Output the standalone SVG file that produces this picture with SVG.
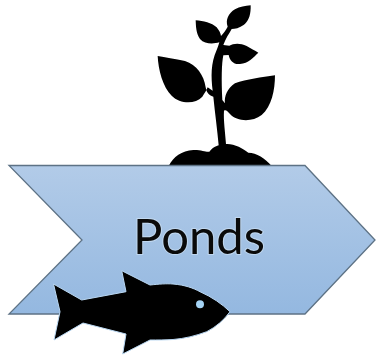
<svg xmlns="http://www.w3.org/2000/svg" width="376" height="358" viewBox="0 0 376 358">
<style>
.k{fill:#000}
.label{font-family:"Lato","Liberation Sans",sans-serif;font-size:49px;fill:#0a0a0a;stroke:#d3e6f6;stroke-width:2px;paint-order:stroke;stroke-opacity:.6}
</style>
<defs>
<linearGradient id="g" x1="0" y1="0" x2="0" y2="1">
<stop offset="0" stop-color="#b2cbe8"/>
<stop offset="1" stop-color="#94b8e0"/>
</linearGradient>
</defs>
<g id="plant">
<path class="k" transform="translate(140 0) scale(.3333)" d="M86 498C100 470 125 452 160 450C185 449 200 458 208 455C220 440 232 438 236 436C232 390 225 340 220 290C205 285 200 278 197 262C192 225 170 195 135 183C105 176 75 172 53 168C55 210 68 260 95 287C120 312 165 314 187 290C194 280 200 270 203 262L218 272C213 230 212 190 230 150C234 140 236 134 238 127C222 132 195 134 180 117C168 100 168 80 167 61C190 63 215 68 230 82C238 92 242 100 243 108C250 100 258 90 263 80C256 60 265 40 285 28C300 20 315 18 332 16C333 40 328 62 312 74C298 84 285 87 275 87C267 102 257 115 250 135L268 137C280 130 300 128 320 138C332 145 345 152 355 158C340 172 325 190 300 192C280 194 270 182 266 165L250 166C245 190 244 240 247 300L255 310C252 290 262 265 285 250C320 238 365 232 405 226C405 270 395 320 365 345C335 368 290 364 270 342C262 334 258 328 252 332C250 360 256 400 258 432C280 430 310 445 325 458C350 458 375 475 395 498Z"/>
</g>
<g id="chevron">
<path d="M9 165.500H305L375 240L305 314H9L82 240Z" fill="url(#g)" stroke="#5d7285" stroke-width="1.300"/>
<text class="label" x="199" y="254" text-anchor="middle">Ponds</text>
</g>
<g id="fish">
<path class="k" stroke="#b9d7f2" stroke-width="1" d="M53.500 284L81.700 300L126 291.700L121.700 270.700L150 285C160 284 166 283.500 173 284C185 285 193 288 200 291.700C212 297 222 304 230 311.700C224 320 216 327 206.700 331.700C195 336 185 338.500 173 339.500C165 340 157 340 150 340L122.700 354L126 334L83 323L54 340L60 311.700Z"/>
<circle cx="200" cy="304.300" r="4" fill="#a5d3f5"/>
</g>
</svg>
